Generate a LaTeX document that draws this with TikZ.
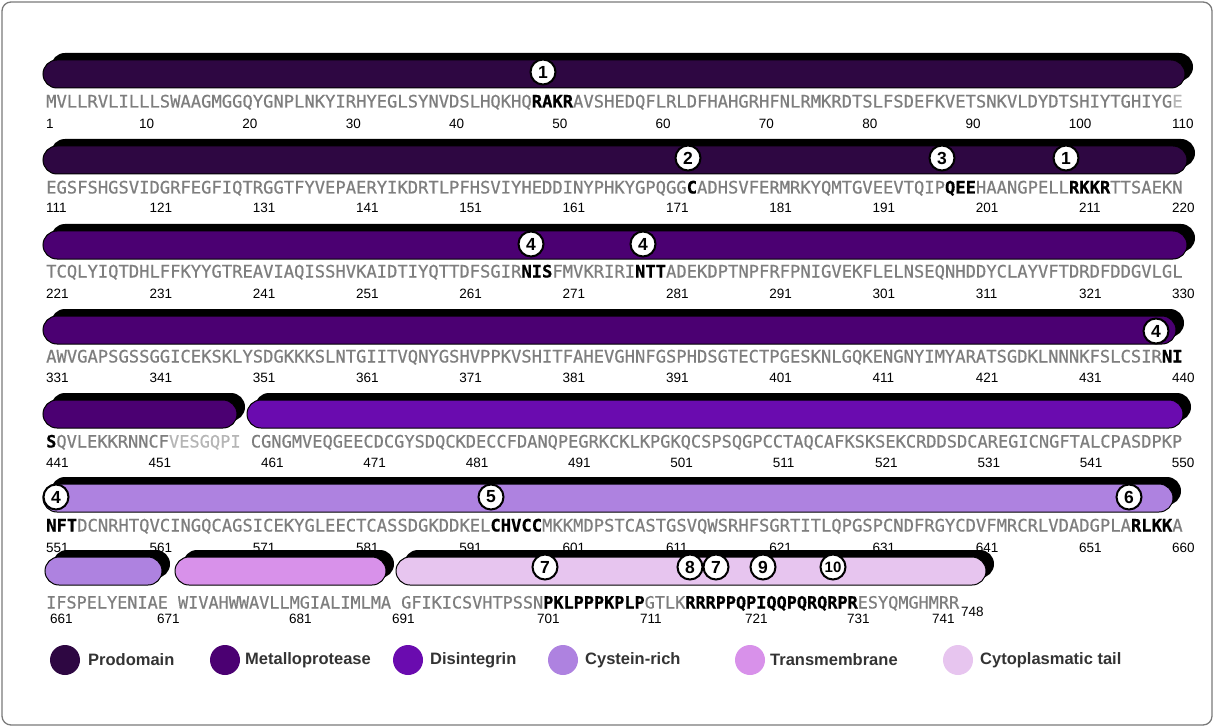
\documentclass[tikz,border=0pt]{standalone}
\usepackage{fontspec}
\setmainfont{Liberation Sans}
\newfontfamily\seqfont[FakeBold=0.6]{DejaVu Sans Mono}
\newfontfamily\labfont{Liberation Sans}

\definecolor{prodom}{HTML}{2E0742}
\definecolor{metallo}{HTML}{4B0072}
\definecolor{disint}{HTML}{6A0BAF}
\definecolor{cysrich}{HTML}{AE82E0}
\definecolor{transm}{HTML}{D891EA}
\definecolor{cytotail}{HTML}{E7C5EF}
\definecolor{seqgray}{HTML}{7E7E7E}
\definecolor{seqlight}{HTML}{B5B5B5}
\definecolor{framegray}{HTML}{7A7A7A}
\definecolor{legtext}{HTML}{333333}

% highlighted and faded residues
\newcommand\hl[1]{\textcolor{black}{\bfseries #1}}
\newcommand\lt[1]{\textcolor{seqlight}{#1}}

% domain bar: left x, right x, top y, fill colour
\newcommand\domainbar[4]{%
  \fill[black, rounded corners=14pt] ({#1+8},{#3-7}) rectangle ({#2+8},{#3+21});
  \draw[fill=#4, line width=1pt, rounded corners=14pt] (#1,#3) rectangle (#2,{#3+28});
}

\def\xo{46}
\def\cw{10.33}
\def\cwv{10.234}

\tikzset{
  seqline/.style={anchor=base west, inner sep=0pt, text=seqgray,
    font=\seqfont\fontsize{17.16}{20}\selectfont},
  numlab/.style={anchor=base west, inner sep=0pt, text=black,
    font=\labfont\fontsize{13.5}{15}\selectfont},
  sitebadge/.style={circle, draw=black, fill=white, line width=2pt,
    minimum size=25pt, inner sep=0pt, font=\bfseries\fontsize{17.5}{17.5}\selectfont},
  legdot/.style={circle, minimum size=30pt, inner sep=0pt},
  legtext/.style={anchor=west, inner sep=0pt, text=legtext,
    font=\bfseries\fontsize{16.5}{18}\selectfont},
}

\begin{document}
\begin{tikzpicture}[x=1pt,y=-1pt]
\useasboundingbox (0,0) rectangle (1214,727);
\draw[framegray, line width=1.3pt, rounded corners=9pt] (2,2) rectangle (1212,725);

% ---------- domain bars ----------
\domainbar{43}{1185}{60}{prodom}
\domainbar{43}{1187}{146}{prodom}
\domainbar{43}{1187}{231}{metallo}
\domainbar{43}{1176}{316}{metallo}
\domainbar{43}{237}{400}{metallo}
\domainbar{247}{1183}{400}{disint}
\domainbar{43}{1173}{484}{cysrich}
\domainbar{45}{162}{557}{cysrich}
\domainbar{175}{386}{557}{transm}
\domainbar{396}{986}{557}{cytotail}

% ---------- sequence ----------
\node[seqline] (s1) at (\xo,107.5) {MVLLRVLILLLSWAAGMGGQYGNPLNKYIRHYEGLSYNVDSLHQKHQ\hl{RAKR}AVSHEDQFLRLDFHAHGRHFNLRMKRDTSLFSDEFKVETSNKVLDYDTSHIYTGHIYG\lt{E}};
\node[seqline] (s2) at (\xo,193.5) {EGSFSHGSVIDGRFEGFIQTRGGTFYVEPAERYIKDRTLPFHSVIYHEDDINYPHKYGPQGG\hl{C}ADHSVFERMRKYQMTGVEEVTQIP\hl{QEE}HAANGPELL\hl{RKKR}TTSAEKN};
\node[seqline] (s3) at (\xo,277.5) {TCQLYIQTDHLFFKYYGTREAVIAQISSHVKAIDTIYQTTDFSGIR\hl{NIS}FMVKRIRI\hl{NTT}ADEKDPTNPFRFPNIGVEKFLELNSEQNHDDYCLAYVFTDRDFDDGVLGL};
\node[seqline] (s4) at (\xo,362.5) {AWVGAPSGSSGGICEKSKLYSDGKKKSLNTGIITVQNYGSHVPPKVSHITFAHEVGHNFGSPHDSGTECTPGESKNLGQKENGNYIMYARATSGDKLNNNKFSLCSIR\hl{NI}};
\node[seqline, font=\seqfont\fontsize{17.0}{20}\selectfont] (s5) at (\xo,447.5) {\hl{S}QVLEKKRNNCF\lt{VESGQPI} CGNGMVEQGEECDCGYSDQCKDECCFDANQPEGRKCKLKPGKQCSPSQGPCCTAQCAFKSKSEKCRDDSDCAREGICNGFTALCPASDPKP};
\node[seqline] (s6) at (\xo,531.5) {\hl{NFT}DCNRHTQVCINGQCAGSICEKYGLEECTCASSDGKDDKEL\hl{CHVCC}MKKMDPSTCASTGSVQWSRHFSGRTITLQPGSPCNDFRGYCDVFMRCRLVDADGPLA\hl{RLKK}A};
\node[seqline, font=\seqfont\fontsize{16.85}{20}\selectfont] (s7) at (\xo,608.5) {IFSPELYENIAE WIVAHWWAVLLMGIALIMLMA GFIKICSVHTPSSN\hl{PKLPPPKPLP}GTLK\hl{RRRPPQPIQQPQRQRPR}ESYQMGHMRR};

% ---------- residue numbers ----------
\foreach \k in {1,10,20,...,110}
  \node[numlab] (n1-\k) at ({\xo+(\k-1)*\cw},129) {\k};
\foreach \r/\yy in {2/213,3/298,4/382,6/552}{
  \foreach \k in {1,11,...,101,110}{
    \pgfmathtruncatemacro\lab{110*(\r-1)+\k}
    \node[numlab] (n\r-\k) at ({\xo+(\k-1)*\cw},\yy) {\lab};
  }
}
\foreach \k in {1,11,...,101,110}{
  \pgfmathtruncatemacro\lab{440+\k}
  \pgfmathsetmacro\xx{\xo+(\k-1)*\cwv+(\k>19)*\cwv}
  \node[numlab] (n5-\k) at (\xx,467) {\lab};
}
\foreach \xx/\lab in {50/661,157/671,289/681,392/691,537/701,640/711,745/721,847/731,932/741}
  \node[numlab] (n7-\lab) at (\xx,623) {\lab};
\node[numlab] (n7-748) at (961,616) {748};

% ---------- site badges ----------
\node[sitebadge] (b1a) at (543,72) {1};
\node[sitebadge] (b2a) at (688,158) {2};
\node[sitebadge] (b3a) at (942,158) {3};
\node[sitebadge] (b1b) at (1066,158) {1};
\node[sitebadge] (b4a) at (531,244) {4};
\node[sitebadge] (b4b) at (643,244) {4};
\node[sitebadge] (b4c) at (1156,331) {4};
\node[sitebadge] (b4d) at (56,497) {4};
\node[sitebadge] (b5a) at (491,497) {5};
\node[sitebadge] (b6a) at (1129,497) {6};
\node[sitebadge] (b7a) at (545,567) {7};
\node[sitebadge] (b8a) at (690,567) {8};
\node[sitebadge] (b7b) at (716,567) {7};
\node[sitebadge] (b9a) at (763,567) {9};
\node[sitebadge, font=\bfseries\fontsize{15}{15}\selectfont] (b10a) at (833,567) {10};

% ---------- legend ----------
\foreach \cx/\tx/\col/\tag/\txt in {65/88/prodom/lg1/Prodomain,
    225/245/metallo/lg2/Metalloprotease,
    408/430/disint/lg3/Disintegrin,
    563/585/cysrich/lg4/Cystein-rich,
    750/770/transm/lg5/Transmembrane,
    958/980/cytotail/lg6/Cytoplasmatic tail}{
  \node[legdot, fill=\col] (\tag-dot) at (\cx,660) {};
  \node[legtext] (\tag-txt) at (\tx,660) {\txt};
}
\end{tikzpicture}
\end{document}
